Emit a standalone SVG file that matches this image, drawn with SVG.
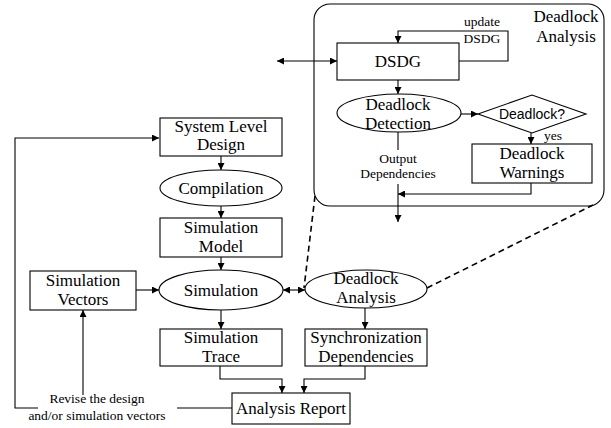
<svg xmlns="http://www.w3.org/2000/svg" width="611" height="428" viewBox="0 0 611 428">
<defs>
<marker id="ah" viewBox="0 0 10 10" refX="10" refY="5" markerWidth="7" markerHeight="7" orient="auto-start-reverse" markerUnits="userSpaceOnUse">
<path d="M0,0 L10,5 L0,10 z" fill="#000"/>
</marker>
<style>
.s{fill:#fff;stroke:#000;stroke-width:1.1}
.c{fill:none;stroke:#000;stroke-width:1.1}
.a{marker-end:url(#ah)}
.b{marker-start:url(#ah);marker-end:url(#ah)}
.d{fill:none;stroke:#000;stroke-width:1.6;stroke-dasharray:6,4}
.t{font-family:"Liberation Serif","Times New Roman",serif;font-size:17px;text-anchor:middle;fill:#000}
.m{font-family:"Liberation Serif","Times New Roman",serif;font-size:13.5px;text-anchor:middle;fill:#000}
.f{font-family:"Liberation Sans",Arial,sans-serif;font-size:14px;text-anchor:middle;fill:#000}
</style>
</defs>
<rect width="611" height="428" fill="#fff"/>

<g id="deadlock-analysis-panel">
<rect class="s" x="314" y="4" width="290" height="202" rx="16" ry="16"/>
<text class="t" x="566" y="22">Deadlock</text>
<text class="t" x="566" y="42">Analysis</text>
</g>

<g id="connectors">
<path class="c a" d="M221,156 V170"/>
<path class="c a" d="M221,206 V218"/>
<path class="c a" d="M221,257 V270"/>
<path class="c a" d="M221,310 V329"/>
<path class="c a" d="M136,290 H159"/>
<path class="c b" d="M283,290 H305"/>
<path class="c a" d="M365,308 V329"/>
<path class="c a" d="M220,366 V379 H282 V393"/>
<path class="c a" d="M365,366 V379 H304 V393"/>
<path class="c" d="M232,408 H177"/>
<path class="c a" d="M38,408 H15 V138 H159"/>
<path class="c a" d="M83,395 V310"/>
<path class="c b" d="M277,61 H337"/>
<path class="c a" d="M459,61 H508 V31 H398 V43"/>
<path class="c a" d="M398,80 V94"/>
<path class="c a" d="M460,114 H478"/>
<path class="c a" d="M531,133 V144"/>
<path class="c" d="M398,132 V150"/>
<path class="c a" d="M398,184 V222"/>
<path class="c a" d="M531,183 V194 H398"/>
<path class="d" d="M315,196 L304,288"/>
<path class="d" d="M427,288 L593,205"/>
<text class="m" x="482" y="26">update</text>
<text class="m" x="482" y="43">DSDG</text>
<text class="m" x="398" y="163">Output</text>
<text class="m" x="398" y="178">Dependencies</text>
<text class="m" x="553" y="140">yes</text>
<text class="m" x="97" y="403">Revise the design</text>
<text class="m" x="97" y="420">and/or simulation vectors</text>
</g>

<g id="system-level-design">
<rect class="s" x="160" y="118" width="122" height="38"/>
<text class="t" x="221" y="132">System Level</text>
<text class="t" x="221" y="150">Design</text>
</g>
<g id="compilation">
<ellipse class="s" cx="221" cy="188" rx="61" ry="18"/>
<text class="t" x="221" y="194">Compilation</text>
</g>
<g id="simulation-model">
<rect class="s" x="160" y="218" width="122" height="39"/>
<text class="t" x="221" y="233">Simulation</text>
<text class="t" x="221" y="252">Model</text>
</g>
<g id="simulation">
<ellipse class="s" cx="221" cy="290" rx="62" ry="20"/>
<text class="t" x="221" y="296">Simulation</text>
</g>
<g id="simulation-vectors">
<rect class="s" x="30" y="271" width="106" height="39"/>
<text class="t" x="83" y="286">Simulation</text>
<text class="t" x="83" y="305">Vectors</text>
</g>
<g id="deadlock-analysis">
<ellipse class="s" cx="366" cy="289" rx="61" ry="19"/>
<text class="t" x="366" y="284">Deadlock</text>
<text class="t" x="366" y="303">Analysis</text>
</g>
<g id="simulation-trace">
<rect class="s" x="160" y="329" width="122" height="37"/>
<text class="t" x="221" y="343">Simulation</text>
<text class="t" x="221" y="362">Trace</text>
</g>
<g id="synchronization-dependencies">
<rect class="s" x="305" y="329" width="122" height="37"/>
<text class="t" x="366" y="343">Synchronization</text>
<text class="t" x="366" y="362">Dependencies</text>
</g>
<g id="analysis-report">
<rect class="s" x="232" y="393" width="118" height="31"/>
<text class="t" x="291" y="414">Analysis Report</text>
</g>
<g id="dsdg">
<rect class="s" x="337" y="43" width="122" height="37"/>
<text class="t" x="398" y="67">DSDG</text>
</g>
<g id="deadlock-detection">
<ellipse class="s" cx="399" cy="113" rx="62" ry="19"/>
<text class="t" x="398" y="110">Deadlock</text>
<text class="t" x="398" y="129">Detection</text>
</g>
<g id="deadlock-decision">
<polygon class="s" points="478,114 532,95 586,114 532,133"/>
<text class="f" x="532" y="119">Deadlock?</text>
</g>
<g id="deadlock-warnings">
<rect class="s" x="472" y="144" width="120" height="39"/>
<text class="t" x="532" y="159">Deadlock</text>
<text class="t" x="532" y="178">Warnings</text>
</g>
</svg>
